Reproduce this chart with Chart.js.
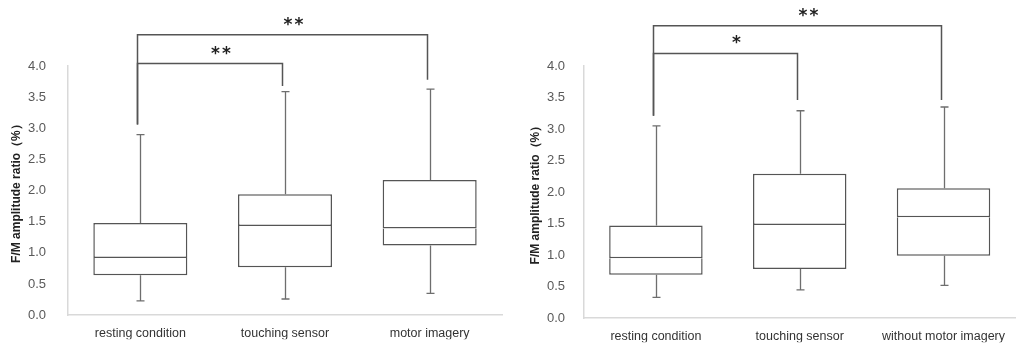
<!DOCTYPE html>
<html>
<head>
<meta charset="utf-8">
<script src="https://cdn.jsdelivr.net/npm/chart.js@4.4.0/dist/chart.umd.min.js"></script>
<style>
  body { margin: 0; background: #fff; }
  .panel { position: absolute; top: 0; width: 508px; height: 345px; }
</style>
</head>
<body>
<div class="panel" style="left:0"><canvas id="chartA" width="508" height="345"></canvas></div>
<div class="panel" style="left:508px"><canvas id="chartB" width="508" height="345"></canvas></div>
<script>
// left panel
const labelsA = ['resting condition', 'touching sensor', 'motor imagery'];
const minA = [0.23, 0.26, 0.35];
const q1A = [0.64, 0.77, 1.12];
const medA = [0.92, 1.43, 1.39];
const q3A = [1.48, 1.94, 2.17];
const maxA = [2.90, 3.59, 3.63];
const bracketsA = [
  { from: 0, to: 2, y: 4.50, leftEnd: 3.06, rightEnd: 3.78, text: '**' },
  { from: 0, to: 1, y: 4.04, leftEnd: 3.06, rightEnd: 3.68, text: '**' }
];

// right panel
const labelsB = ['resting condition', 'touching sensor', 'without motor imagery'];
const minB = [0.33, 0.45, 0.52];
const q1B = [0.69, 0.78, 0.99];
const medB = [0.95, 1.48, 1.60];
const q3B = [1.47, 2.29, 2.06];
const maxB = [3.05, 3.29, 3.35];
const bracketsB = [
  { from: 0, to: 2, y: 4.64, leftEnd: 3.21, rightEnd: 3.46, text: '**' },
  { from: 0, to: 1, y: 4.20, leftEnd: 3.21, rightEnd: 3.46, text: '*' }
];

const yTicks = [0, 0.5, 1, 1.5, 2, 2.5, 3, 3.5, 4];
const yTitle = 'F/M amplitude ratio（%）';

// whiskers + significance brackets, drawn through the chart scales
const boxExtras = {
  id: 'boxExtras',
  afterDatasetsDraw(chart, args, opts) {
    const { ctx } = chart;
    const xs = chart.scales.x, ys = chart.scales.y;
    ctx.save();
    ctx.strokeStyle = '#6e6e6e';
    ctx.lineWidth = 1.3;
    opts.mins.forEach((mn, i) => {
      const x = Math.round(xs.getPixelForValue(i)) + 0.5;
      const segs = [[opts.q1s[i], mn], [opts.q3s[i], opts.maxs[i]]];
      segs.forEach(([a, b]) => {
        ctx.beginPath();
        ctx.moveTo(x, ys.getPixelForValue(a));
        ctx.lineTo(x, ys.getPixelForValue(b));
        ctx.moveTo(x - 4, ys.getPixelForValue(b));
        ctx.lineTo(x + 4, ys.getPixelForValue(b));
        ctx.stroke();
      });
    });
    // brackets
    opts.brackets.forEach(br => {
      const x1 = Math.round(xs.getPixelForValue(br.from)) - 2.5;
      const x2 = Math.round(xs.getPixelForValue(br.to)) - 2.5;
      const y = ys.getPixelForValue(br.y);
      ctx.strokeStyle = '#555';
      ctx.lineWidth = 1.5;
      ctx.beginPath();
      ctx.moveTo(x1, ys.getPixelForValue(br.leftEnd));
      ctx.lineTo(x1, y);
      ctx.lineTo(x2, y);
      ctx.lineTo(x2, ys.getPixelForValue(br.rightEnd));
      ctx.stroke();
      ctx.fillStyle = '#222';
      ctx.font = 'bold 17px "DejaVu Sans"';
      ctx.textAlign = 'center';
      ctx.textBaseline = 'alphabetic';
      ctx.letterSpacing = '2px';
      ctx.fillText(br.text, (x1 + x2) / 2 + 12, y - 5);
    });
    ctx.restore();
  }
};

function makeChart(id, labels, mins, q1s, meds, q3s, maxs, brackets, axisLeft, tickPad, titlePad, padRight) {
  const boxStyle = {
    backgroundColor: '#ffffff',
    borderColor: '#555555',
    borderSkipped: false,
    grouped: false,
    barPercentage: 0.65,
    categoryPercentage: 1.0
  };
  return new Chart(document.getElementById(id), {
    type: 'bar',
    data: {
      labels: labels,
      datasets: [
        Object.assign({ label: 'lower', data: q1s.map((q, i) => [q, meds[i]]),
          borderWidth: { left: 1.5, right: 1.5, bottom: 1.5, top: 0 } }, boxStyle),
        Object.assign({ label: 'upper', data: meds.map((m, i) => [m, q3s[i]]),
          borderWidth: 1.5 }, boxStyle)
      ]
    },
    options: {
      responsive: false,
      animation: false,
      devicePixelRatio: 1,
      layout: { padding: { left: 0, right: padRight, top: 66, bottom: 0 } },
      plugins: {
        legend: { display: false },
        tooltip: { enabled: false },
        boxExtras: { mins, q1s, q3s, maxs, brackets }
      },
      scales: {
        x: {
          grid: { display: false, drawTicks: false },
          border: { display: true, color: '#d9d9d9', width: 1.5 },
          ticks: { color: '#333', font: { family: 'Liberation Sans', size: 12.5 }, padding: 11, maxRotation: 0 },
          afterFit: s => { s.height = 24; }
        },
        y: {
          min: 0,
          max: 4,
          afterBuildTicks: s => { s.ticks = yTicks.map(v => ({ value: v })); },
          grid: { display: false, drawTicks: false },
          border: { display: true, color: '#d9d9d9', width: 1.5 },
          ticks: {
            color: '#595959',
            font: { family: 'Liberation Sans', size: 13 },
            padding: tickPad,
            callback: v => Number(v).toFixed(1)
          },
          title: {
            display: true,
            text: yTitle,
            color: '#222',
            font: { family: 'Liberation Sans', size: 12, weight: 'bold' },
            padding: { top: titlePad, bottom: 0 }
          },
          afterFit: s => { s.width = axisLeft; }
        }
      }
    },
    plugins: [boxExtras]
  });
}

makeChart('chartA', labelsA, minA, q1A, medA, q3A, maxA, bracketsA, 68, 22, 9, 6);
makeChart('chartB', labelsB, minB, q1B, medB, q3B, maxB, bracketsB, 76, 19, 20, 0);
</script>
</body>
</html>
